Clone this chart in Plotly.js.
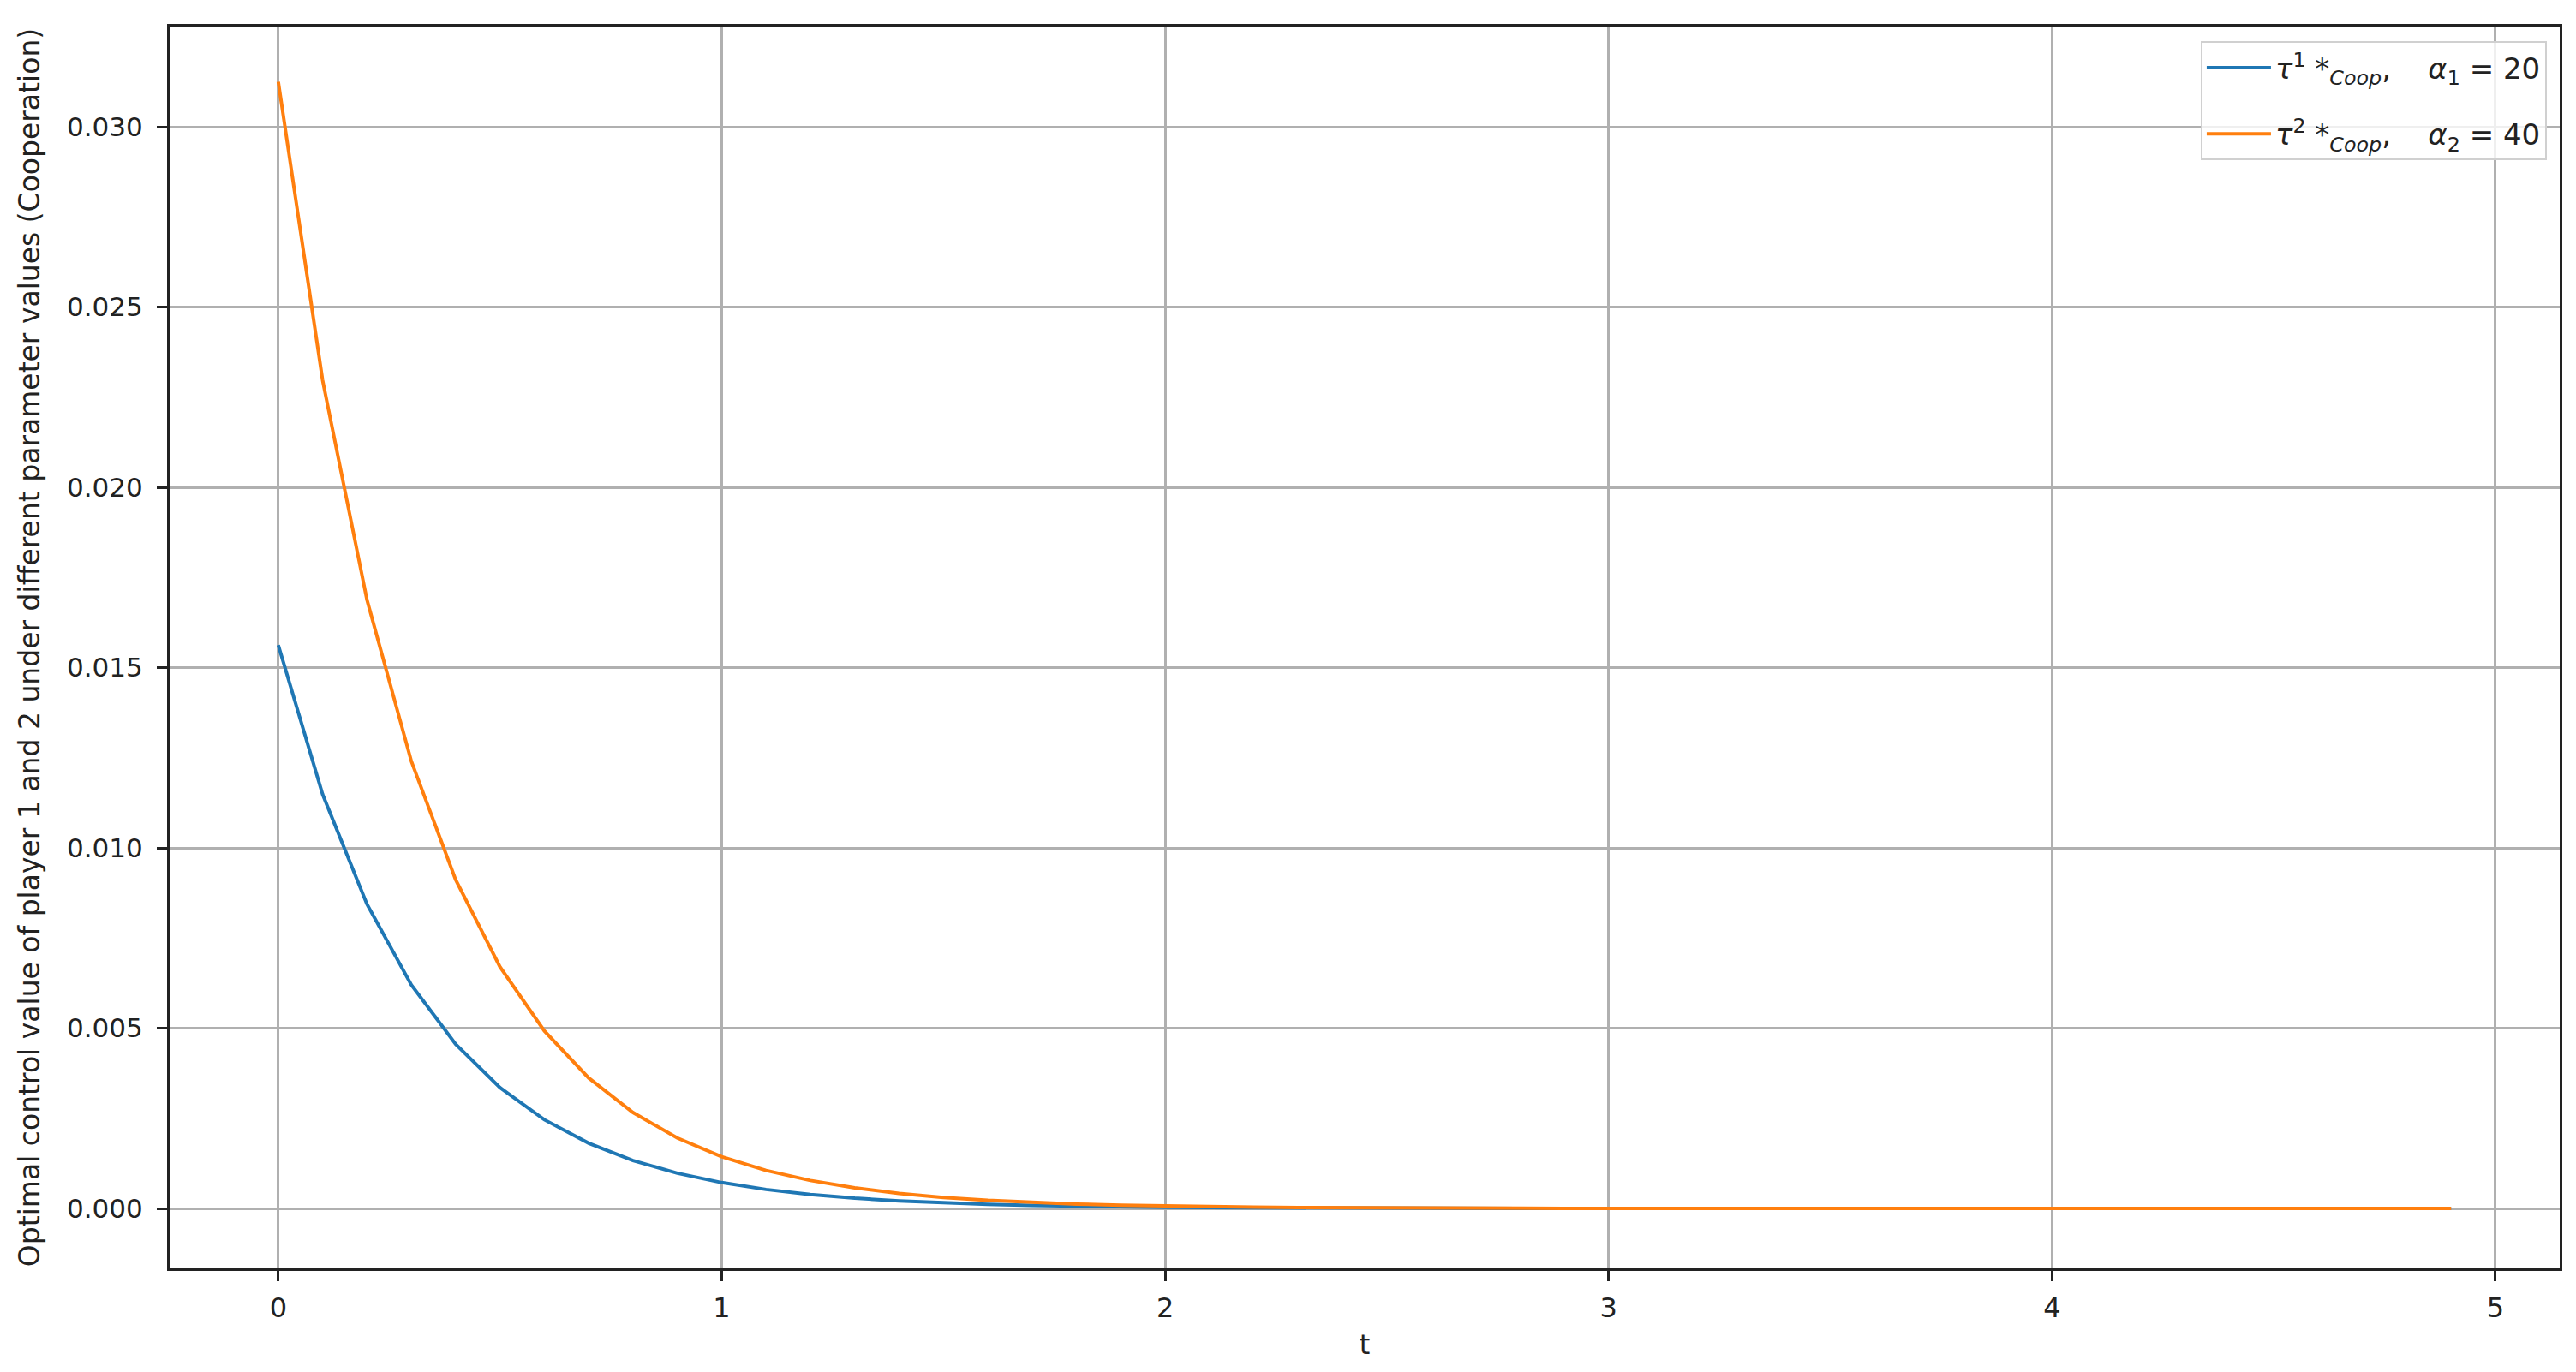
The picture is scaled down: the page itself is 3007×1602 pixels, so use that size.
<!DOCTYPE html>
<html>
<head>
<meta charset="utf-8">
<script src="https://cdn.plot.ly/plotly-3.0.1.min.js"></script>
<style>
  html, body { margin: 0; padding: 0; background: #fff; }
  #chart { width: 3007px; height: 1602px; }
</style>
</head>
<body>
<div id="chart"></div>
<script>
// time grid (t = 0 .. 4.9, step 0.1)
var t = [0.0, 0.1, 0.2, 0.3, 0.4, 0.5, 0.6, 0.7, 0.8, 0.9,
         1.0, 1.1, 1.2, 1.3, 1.4, 1.5, 1.6, 1.7, 1.8, 1.9,
         2.0, 2.1, 2.2, 2.3, 2.4, 2.5, 2.6, 2.7, 2.8, 2.9,
         3.0, 3.1, 3.2, 3.3, 3.4, 3.5, 3.6, 3.7, 3.8, 3.9,
         4.0, 4.1, 4.2, 4.3, 4.4, 4.5, 4.6, 4.7, 4.8, 4.9];

// player 1, alpha_1 = 20
var tau1 = [0.015625, 0.011484, 0.008441, 0.006204, 0.004560, 0.003352, 0.002463, 0.001811, 0.001331, 0.000978,
            0.000719, 0.000528, 0.000388, 0.000285, 0.000210, 0.000154, 0.000113, 0.000083, 0.000061, 0.000045,
            0.000033, 0.000024, 0.000018, 0.000013, 0.000010, 0.000007, 0.000005, 0.000004, 0.000003, 0.000002,
            0.000002, 0.000001, 0.000001, 0.000001, 0.000001, 0.000000, 0.000000, 0.000000, 0.000000, 0.000000,
            0.000000, 0.000000, 0.000000, 0.000000, 0.000000, 0.000000, 0.000000, 0.000000, 0.000000, 0.000000];

// player 2, alpha_2 = 40
var tau2 = [0.031250, 0.022969, 0.016882, 0.012408, 0.009120, 0.006703, 0.004927, 0.003621, 0.002662, 0.001956,
            0.001438, 0.001057, 0.000777, 0.000571, 0.000420, 0.000308, 0.000227, 0.000167, 0.000122, 0.000090,
            0.000066, 0.000049, 0.000036, 0.000026, 0.000019, 0.000014, 0.000010, 0.000008, 0.000006, 0.000004,
            0.000003, 0.000002, 0.000002, 0.000001, 0.000001, 0.000001, 0.000001, 0.000000, 0.000000, 0.000000,
            0.000000, 0.000000, 0.000000, 0.000000, 0.000000, 0.000000, 0.000000, 0.000000, 0.000000, 0.000000];

var names = [
    "<i>τ</i><sup>1</sup> *<sub><i>Coop</i></sub>,\u00a0\u00a0\u00a0 <i>α</i><sub>1</sub> = 20",
    "<i>τ</i><sup>2</sup> *<sub><i>Coop</i></sub>,\u00a0\u00a0\u00a0 <i>α</i><sub>2</sub> = 40"
];
var colors = ['#1f77b4', '#ff7f0e'];

var font = 'DejaVu Sans, sans-serif';
var ink = '#222222';

var data = [
    {
        type: 'scatter', mode: 'lines',
        x: t, y: tau1,
        name: names[0], legendgroup: 'a',
        line: { color: colors[0], width: 4 }
    },
    {
        type: 'scatter', mode: 'lines',
        x: t, y: tau2,
        name: names[1], legendgroup: 'b',
        line: { color: colors[1], width: 4 }
    }
];

var layout = {
    width: 3007,
    height: 1602,
    paper_bgcolor: '#ffffff',
    plot_bgcolor: '#ffffff',
    font: { family: font, size: 31, color: ink },
    margin: { l: 198, r: 19, t: 31, b: 121 },
    showlegend: true,
    legend: {
        x: 0.9946, y: 0.988,
        xanchor: 'right', yanchor: 'top',
        bgcolor: 'rgba(255,255,255,0.8)',
        bordercolor: '#d0d0d0',
        borderwidth: 2,
        font: { family: font, size: 34, color: ink },
        itemwidth: 75,
        tracegroupgap: 30,
        traceorder: 'grouped'
    },
    xaxis: {
        range: [-0.245, 5.145],
        tickmode: 'array',
        tickvals: [0, 1, 2, 3, 4, 5],
        ticktext: ['0', '1', '2', '3', '4', '5'],
        showgrid: true, gridcolor: '#b0b0b0', gridwidth: 2.5,
        zeroline: false,
        showline: true, linecolor: '#222222', linewidth: 3, mirror: true,
        ticks: 'outside', ticklen: 12, tickwidth: 2.5, tickcolor: '#222222',
        ticklabelstandoff: 4,
        tickfont: { family: font, size: 32, color: ink },
        title: { text: 't', font: { family: font, size: 32, color: ink }, standoff: 14 }
    },
    yaxis: {
        range: [-0.00166, 0.03278],
        tickmode: 'array',
        tickvals: [0, 0.005, 0.010, 0.015, 0.020, 0.025, 0.030],
        ticktext: ['0.000', '0.005', '0.010', '0.015', '0.020', '0.025', '0.030'],
        showgrid: true, gridcolor: '#b0b0b0', gridwidth: 2.5,
        zeroline: false,
        showline: true, linecolor: '#222222', linewidth: 3, mirror: true,
        ticks: 'outside', ticklen: 12, tickwidth: 2.5, tickcolor: '#222222',
        ticklabelstandoff: 10,
        tickfont: { family: font, size: 31, color: ink },
        title: {
            text: 'Optimal control value of player 1 and 2 under different parameter values (Cooperation)',
            font: { family: font, size: 33, color: ink },
            standoff: 22
        }
    }
};

var config = { displayModeBar: false };
Plotly.newPlot('chart', data, layout, config);
</script>
</body>
</html>
